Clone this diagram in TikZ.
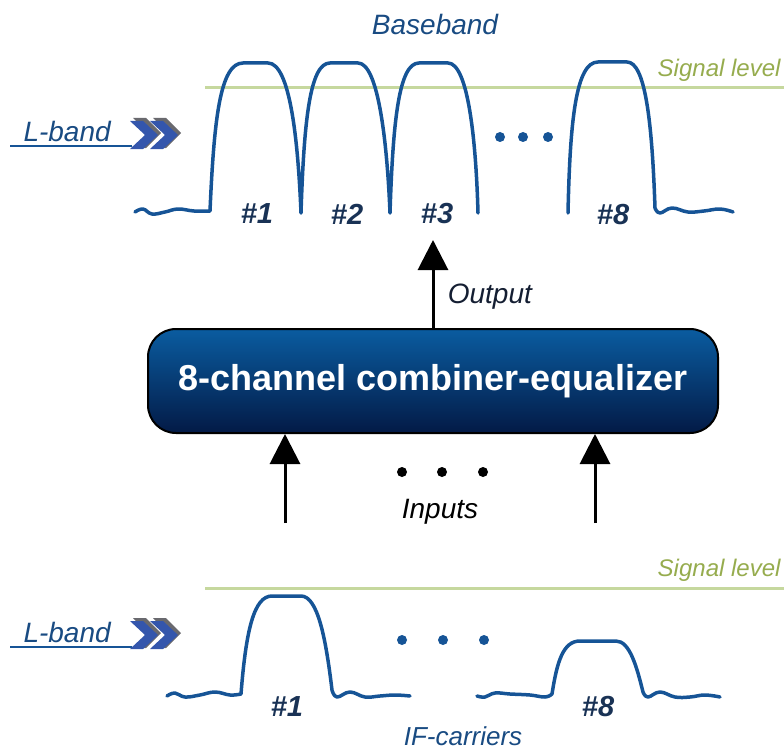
\documentclass[tikz,border=0pt]{standalone}
\usepackage{fontspec}
\setmainfont{Liberation Sans}
\usepackage{tikz}
\usetikzlibrary{arrows.meta,positioning,shadings}
\definecolor{pulseblue}{RGB}{22,84,150}
\definecolor{textblue}{RGB}{25,75,130}
\definecolor{labelnavy}{RGB}{25,50,85}
\definecolor{levelgreen}{RGB}{198,216,158}
\definecolor{leveltext}{RGB}{150,172,78}
\definecolor{boxtop}{RGB}{10,92,160}
\definecolor{boxbottom}{RGB}{3,26,70}
\definecolor{chevblue}{RGB}{52,86,172}
\definecolor{chevshadow}{RGB}{105,105,110}
\definecolor{outtext}{RGB}{20,30,50}

\newcommand{\chevron}[2]{%
  \fill[chevshadow] (#1+3,#2-17) -- ++(13,0) -- ++(15,15) -- ++(-15,15) -- ++(-13,0) -- ++(15,-15) -- cycle;
  \fill[chevblue] (#1,#2-14) -- ++(13,0) -- ++(15,14) -- ++(-15,14) -- ++(-13,0) -- ++(15,-14) -- cycle;}

\tikzset{
  pulse/.style={draw=pulseblue, line width=3.5pt, line join=round, line cap=round},
  siglevel/.style={draw=levelgreen, line width=3pt},
  leveltxt/.style={font=\fontsize{24}{28}\selectfont\itshape, text=leveltext, anchor=east},
  bandtxt/.style={font=\fontsize{28}{32}\selectfont\itshape, text=textblue},
  chlabel/.style={font=\fontsize{29}{33}\selectfont\bfseries\itshape, text=labelnavy},
  flowarrow/.style={-{Triangle[length=30pt,width=30pt]}, line width=3pt, black},
}

\begin{document}
\begin{tikzpicture}[x=1pt, y=-1pt]
    \useasboundingbox (0,0) rectangle (784,749);

    % baseband spectrum
    \node[bandtxt] (baseband) at (435,25) {Baseband};
    \draw[siglevel] (205,88) -- (784,88);
    \node[leveltxt] (lvltop) at (784,70) {Signal level};
    \node[bandtxt, anchor=west] (lbandtop) at (20,131) {L-band};
    \draw[pulseblue, line width=2.5pt] (10,146) -- (132,146);
    \chevron{130}{135}
    \chevron{150}{135}

    \draw[pulse] plot[smooth, tension=0.7] coordinates {(135,212) (143,209) (152,214) (165,212) (178,209) (194,211) (210,211)}
        .. controls (214,120) and (220,63) .. (243,63) -- (268,63)
        .. controls (290,63) and (298,140) .. (301,213)
        .. controls (304,120) and (310,63) .. (330,63) -- (358,63)
        .. controls (378,63) and (387,140) .. (390,213)
        .. controls (393,120) and (399,63) .. (419,63) -- (448,63)
        .. controls (468,63) and (476,140) .. (478,213);
    \draw[pulse] (568,213) .. controls (570,120) and (576,62) .. (598,62) -- (627,62)
        .. controls (645,62) and (652,120) .. (655,208)
        plot[smooth, tension=0.7] coordinates {(655,208) (660,213) (672,208) (688,212) (704,211) (720,209) (733,212)};
    \foreach \x in {500,523,548}
        \fill[pulseblue] (\x,137) circle (5);

    \node[chlabel] (c1) at (257,214) {\#1};
    \node[chlabel] (c2) at (347,214) {\#2};
    \node[chlabel] (c3) at (437,214) {\#3};
    \node[chlabel] (c8) at (613,215) {\#8};

    % combiner
    \node[draw=black, line width=2pt, rounded corners=28pt, top color=boxtop, bottom color=boxbottom,
          minimum width=570pt, minimum height=104pt, text=white,
          font=\fontsize{36}{40}\selectfont\bfseries] (eq) at (433,381) {8-channel combiner-equalizer};

    \coordinate (outtip) at (433,240);
    \draw[flowarrow] (eq.north) -- (outtip)
        node[pos=0.36, right=10pt, font=\fontsize{28}{32}\selectfont\itshape, text=outtext] (out) {Output};

    \coordinate (in1) at (285,523);
    \coordinate (in8) at (595,523);
    \draw[flowarrow] (in1) -- (in1 |- eq.south);
    \draw[flowarrow] (in8) -- (in8 |- eq.south);
    \foreach \x in {402,442,483}
        \fill[black] (\x,472) circle (5);
    \node[font=\fontsize{28}{32}\selectfont\itshape] (inputs) at (440,512) {Inputs};

    % IF carriers
    \draw[siglevel] (205,588) -- (784,588);
    \node[leveltxt] (lvlbot) at (784,570) {Signal level};
    \node[bandtxt, anchor=west] (lbandbot) at (20,632) {L-band};
    \draw[pulseblue, line width=2.5pt] (10,647) -- (132,647);
    \chevron{130}{635}
    \chevron{150}{635}

    \draw[pulse] plot[smooth, tension=0.7] coordinates {(167,696) (175,693) (185,697) (200,695) (215,692) (230,695) (241,694)}
        .. controls (246,630) and (254,596) .. (272,596) -- (301,596)
        .. controls (318,596) and (326,640) .. (332,690)
        plot[smooth, tension=0.7] coordinates {(332,690) (337,697) (350,692) (365,697) (380,696) (395,695) (410,696)};
    \draw[pulse] plot[smooth, tension=0.7] coordinates {(477,696) (485,697) (495,693) (510,694) (530,695) (545,697) (552,694)}
        .. controls (557,662) and (563,641) .. (580,641) -- (616,641)
        .. controls (630,641) and (637,668) .. (643,692)
        plot[smooth, tension=0.7] coordinates {(643,692) (648,697) (660,692) (675,697) (690,697) (705,695) (720,697)};
    \foreach \x in {402,443,484}
        \fill[pulseblue] (\x,640) circle (5);

    \node[chlabel] (b1) at (287,707) {\#1};
    \node[chlabel] (b8) at (598,707) {\#8};
    \node[bandtxt, font=\fontsize{26}{30}\selectfont\itshape, inner sep=0pt, anchor=base] (ifc) at (463,745) {IF-carriers};
\end{tikzpicture}
\end{document}
